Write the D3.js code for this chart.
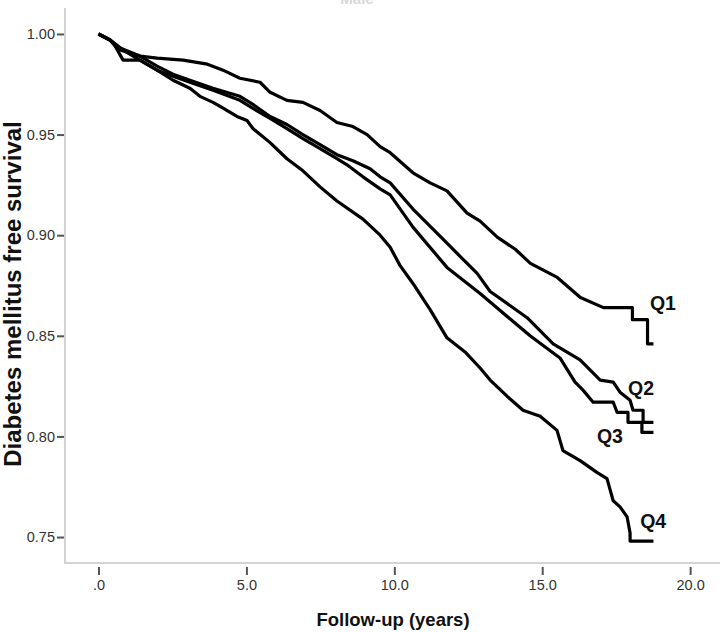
<!DOCTYPE html>
<html>
<head>
<meta charset="utf-8">
<script src="https://cdn.jsdelivr.net/npm/d3@7"></script>
<style>
  html, body { margin: 0; padding: 0; background: #fff; }
  svg { display: block; font-family: "Liberation Sans", Arial, sans-serif; }
</style>
</head>
<body>
<svg id="chart" width="725" height="632"></svg>
<script>
// ---- data ----
const title = "Male";
const xTitle = "Follow-up (years)";
const yTitle = "Diabetes mellitus free survival";

const xTicks = [0, 5, 10, 15, 20];
const xTickLabels = [".0", "5.0", "10.0", "15.0", "20.0"];
const yTicks = [0.75, 0.80, 0.85, 0.90, 0.95, 1.00];
const yTickLabels = ["0.75", "0.80", "0.85", "0.90", "0.95", "1.00"];

const seriesNames = ["Q1", "Q2", "Q3", "Q4"];

// [years, survival]
const q1 = [[0,1.000],[0.39,0.997],[0.73,0.992],[1.40,0.989],[1.98,0.988],[2.86,0.987],[3.68,0.985],[4.21,0.982],[4.78,0.978],[5.46,0.976],[5.80,0.971],[6.37,0.967],[6.91,0.966],[7.49,0.962],[8.06,0.956],[8.60,0.954],[9.08,0.950],[9.52,0.944],[9.86,0.941],[10.63,0.931],[11.21,0.926],[11.78,0.922],[12.46,0.911],[12.90,0.907],[13.48,0.899],[14.09,0.893],[14.60,0.886],[15.51,0.879],[16.29,0.869],[17.07,0.864],[18.05,0.864],[18.05,0.858],[18.56,0.858],[18.56,0.846],[18.76,0.846]];
const q2 = [[0,1.000],[0.39,0.997],[0.73,0.993],[1.40,0.989],[1.98,0.984],[2.52,0.980],[3.09,0.977],[3.87,0.973],[4.78,0.969],[5.22,0.965],[5.80,0.959],[6.37,0.955],[6.91,0.950],[7.49,0.945],[8.06,0.940],[8.60,0.937],[9.18,0.933],[9.52,0.929],[9.86,0.926],[10.63,0.913],[11.78,0.896],[12.80,0.881],[13.24,0.872],[14.49,0.859],[15.37,0.846],[16.28,0.838],[16.96,0.828],[17.40,0.827],[17.63,0.822],[17.97,0.818],[18.07,0.813],[18.41,0.813],[18.41,0.807],[18.76,0.807]];
const q3 = [[0,1.000],[0.39,0.997],[0.56,0.994],[0.83,0.987],[1.40,0.987],[1.98,0.982],[2.52,0.979],[3.09,0.976],[3.87,0.972],[4.78,0.967],[5.22,0.963],[5.80,0.958],[6.37,0.953],[6.91,0.948],[7.49,0.943],[8.06,0.938],[8.40,0.935],[8.94,0.929],[9.52,0.923],[9.86,0.920],[10.63,0.904],[11.78,0.884],[12.90,0.871],[14.59,0.850],[15.60,0.839],[16.11,0.827],[16.38,0.823],[16.72,0.817],[17.40,0.817],[17.53,0.812],[17.90,0.812],[17.90,0.807],[18.37,0.807],[18.37,0.802],[18.76,0.802]];
const q4 = [[0,1.000],[0.39,0.997],[0.83,0.992],[1.40,0.987],[1.98,0.982],[2.52,0.977],[3.09,0.973],[3.43,0.969],[3.87,0.966],[4.11,0.964],[4.68,0.959],[5.02,0.957],[5.22,0.953],[5.80,0.946],[6.37,0.938],[6.91,0.932],[7.49,0.924],[8.06,0.917],[8.94,0.908],[9.52,0.900],[9.86,0.894],[10.19,0.885],[10.63,0.876],[11.21,0.863],[11.78,0.849],[12.39,0.842],[12.90,0.834],[13.24,0.828],[13.81,0.820],[14.35,0.813],[14.93,0.810],[15.50,0.803],[15.70,0.793],[16.28,0.788],[16.86,0.782],[17.19,0.779],[17.40,0.768],[17.63,0.765],[17.87,0.760],[17.97,0.752],[17.97,0.748],[18.76,0.748]];

// label anchor positions (years, survival) for series labels
const labelPos = [[18.64, 0.8628], [17.90, 0.8206], [16.85, 0.7967], [18.31, 0.7545]];

// ---- drawing ----
const svg = d3.select("#chart");
const mLeft = 65, mRight = 720, mTop = 8, mBottom = 563;

const x = d3.scaleLinear().domain([-1.133, 21.01]).range([mLeft, mRight]);
const y = d3.scaleLinear().domain([0.7371, 1.0129]).range([mBottom, mTop]);

// title (mostly cut off at top, as in the reference)
svg.append("text")
  .attr("x", 357).attr("y", 4)
  .attr("text-anchor", "middle")
  .attr("font-size", 15).attr("font-weight", "bold")
  .attr("fill", "#d8d8d8")
  .text(title);

// axis lines
svg.append("line").attr("x1", mLeft).attr("x2", mLeft).attr("y1", mTop).attr("y2", mBottom)
  .attr("stroke", "#d4d4d4").attr("stroke-width", 2);
svg.append("line").attr("x1", mLeft - 1).attr("x2", mRight).attr("y1", mBottom).attr("y2", mBottom)
  .attr("stroke", "#d4d4d4").attr("stroke-width", 2);

// y axis ticks
const yAxis = d3.axisLeft(y)
  .tickValues(yTicks)
  .tickFormat((d, i) => yTickLabels[i])
  .tickSize(7).tickPadding(2);
const gy = svg.append("g").attr("transform", `translate(${mLeft - 1},0)`).call(yAxis);
gy.select(".domain").remove();
gy.selectAll(".tick line").attr("stroke", "#555").attr("stroke-width", 2);
gy.selectAll(".tick text").attr("font-size", 14.5).attr("fill", "#333")
  .attr("font-family", "'Liberation Sans', Arial, sans-serif");

// x axis ticks
const xAxis = d3.axisBottom(x)
  .tickValues(xTicks)
  .tickFormat((d, i) => xTickLabels[i])
  .tickSize(8).tickPadding(5);
const gx = svg.append("g").attr("transform", `translate(0,${mBottom + 4})`).call(xAxis);
gx.select(".domain").remove();
gx.selectAll(".tick line").attr("stroke", "#555").attr("stroke-width", 2);
gx.selectAll(".tick text").attr("font-size", 14.5).attr("fill", "#333")
  .attr("font-family", "'Liberation Sans', Arial, sans-serif");

// axis titles
svg.append("text")
  .attr("x", 393).attr("y", 626)
  .attr("text-anchor", "middle")
  .attr("font-size", 18.5).attr("font-weight", "bold").attr("fill", "#111")
  .text(xTitle);
svg.append("text")
  .attr("transform", "translate(21,294) rotate(-90)")
  .attr("text-anchor", "middle")
  .attr("font-size", 24).attr("font-weight", "bold").attr("fill", "#111")
  .text(yTitle);

// curves
const line = d3.line().x(d => x(d[0])).y(d => y(d[1])).curve(d3.curveLinear);
const allSeries = [q1, q2, q3, q4];
svg.append("g").selectAll("path")
  .data(allSeries)
  .join("path")
  .attr("d", line)
  .attr("fill", "none")
  .attr("stroke", "#000")
  .attr("stroke-width", 3.2)
  .attr("stroke-linejoin", "round");

// series labels
svg.append("g").selectAll("text")
  .data(seriesNames)
  .join("text")
  .attr("x", (d, i) => x(labelPos[i][0]))
  .attr("y", (d, i) => y(labelPos[i][1]))
  .attr("font-size", 19.5).attr("font-weight", "bold").attr("fill", "#111")
  .text(d => d);
</script>
</body>
</html>
